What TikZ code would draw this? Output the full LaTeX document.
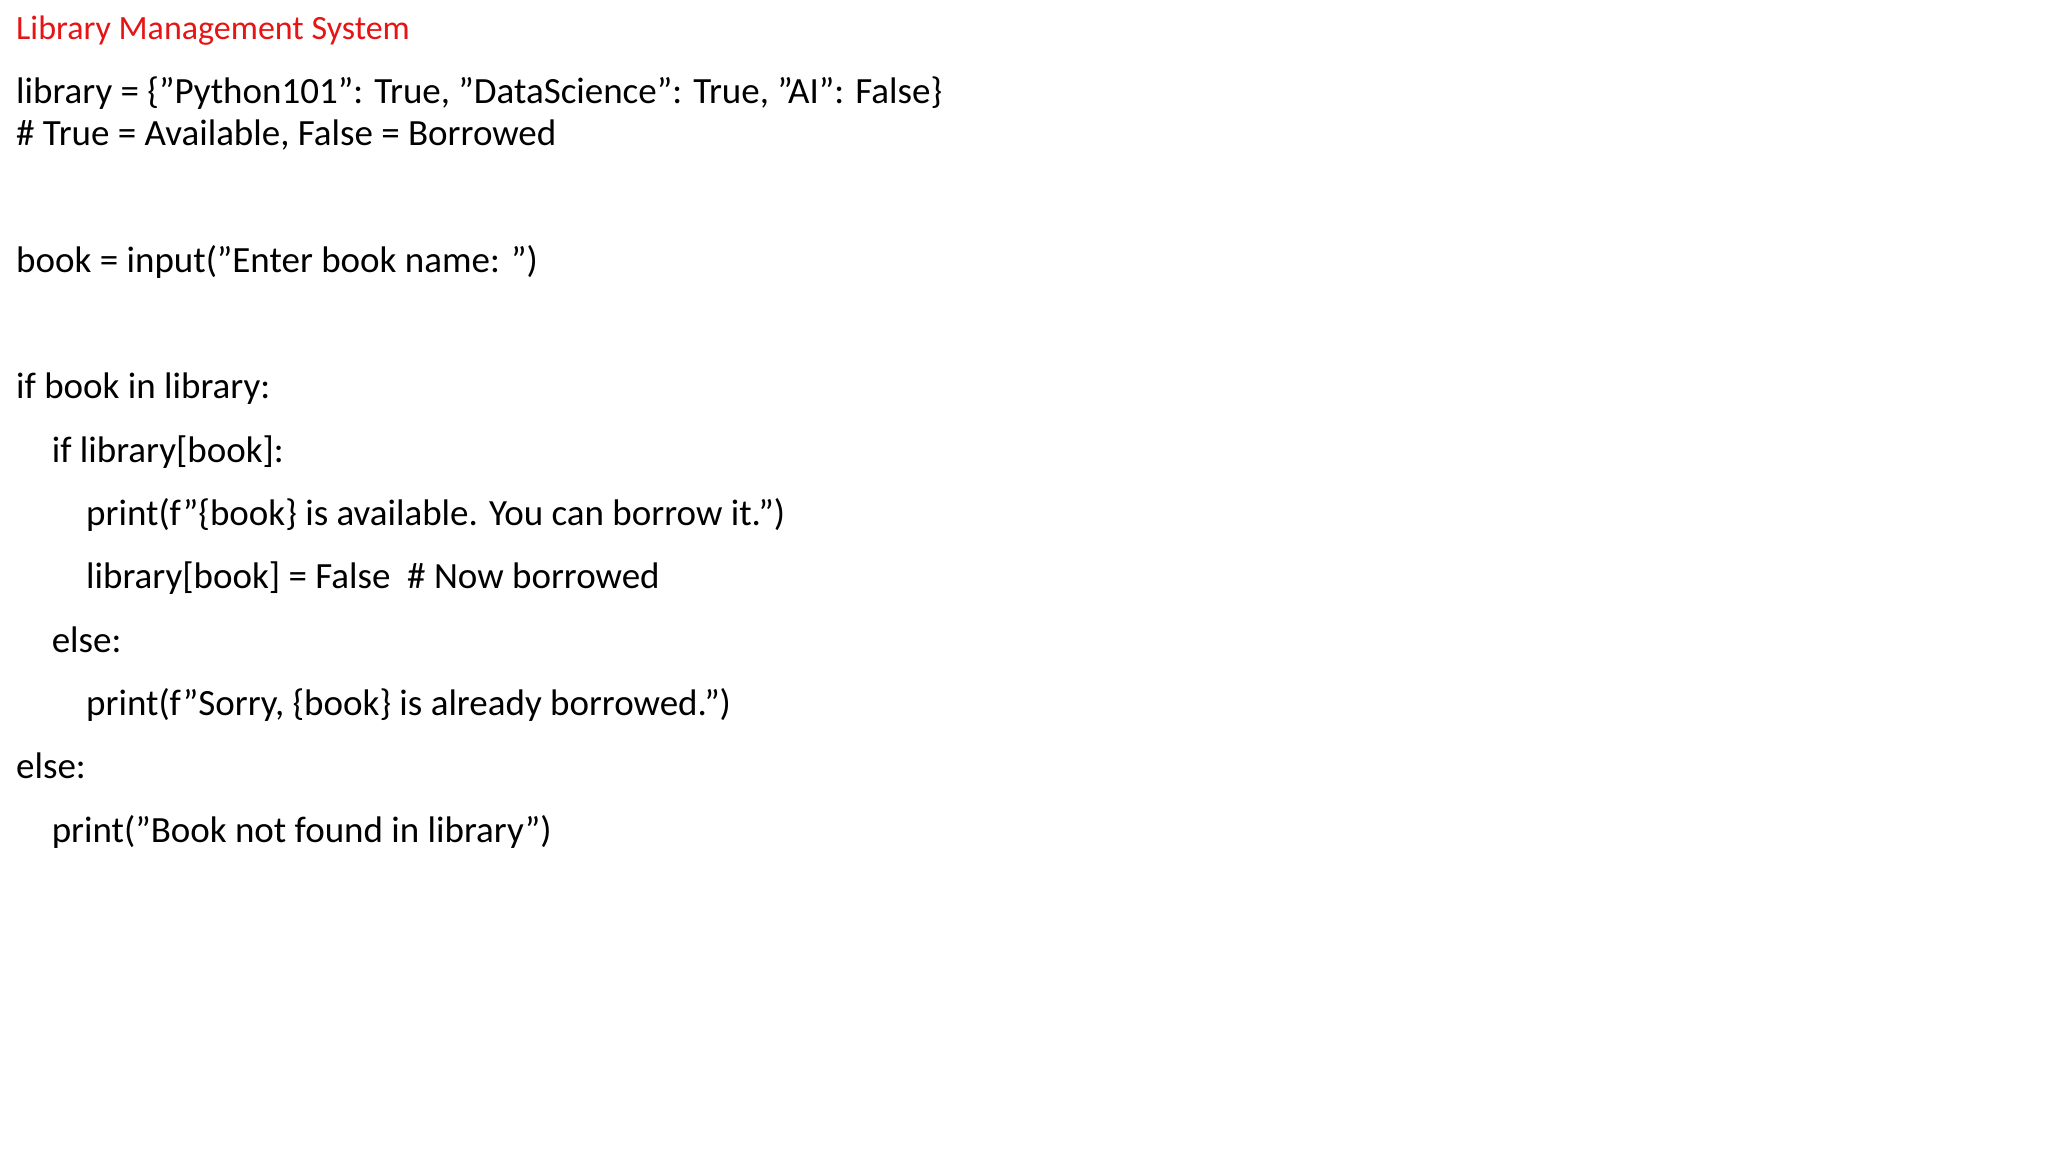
\documentclass[tikz,border=0pt]{standalone}
\usepackage{fontspec}
\setmainfont{Carlito}
\definecolor{titlered}{RGB}{230,20,20}
\begin{document}
\begin{tikzpicture}[x=1pt,y=-1pt,
  code/.style={anchor=base west,inner sep=0pt,font=\fontsize{18.5}{22}\selectfont},
  ttl/.style={anchor=base west,inner sep=0pt,font=\fontsize{17}{20}\selectfont,text=titlered}]
\useasboundingbox (0,0) rectangle (1024,576);
\node[ttl] (t) at (7.9,19.8) {Library Management System};
\node[code] (l1) at (7.9,51.5) {library = \{"Python101": True, "DataScience": True, "AI": False\}};
\node[code] (l2) at (7.9,72.6) {\# True = Available, False = Borrowed};
\node[code] (l3) at (7.9,136) {book = input("Enter book name: ")};
\node[code] (l4) at (7.9,199.3) {if book in library:};
\node[code] (l5) at (25.7,231) {if library[book]:};
\node[code] (l6) at (42.9,262.7) {print(f"\{book\} is available. You can borrow it.")};
\node[code] (l7) at (42.9,294.4) {library[book] = False\ \ \# Now borrowed};
\node[code] (l8) at (25.7,326) {else:};
\node[code] (l9) at (42.9,357.7) {print(f"Sorry, \{book\} is already borrowed.")};
\node[code] (l10) at (7.9,389.4) {else:};
\node[code] (l11) at (25.7,421.1) {print("Book not found in library")};
\end{tikzpicture}
\end{document}
